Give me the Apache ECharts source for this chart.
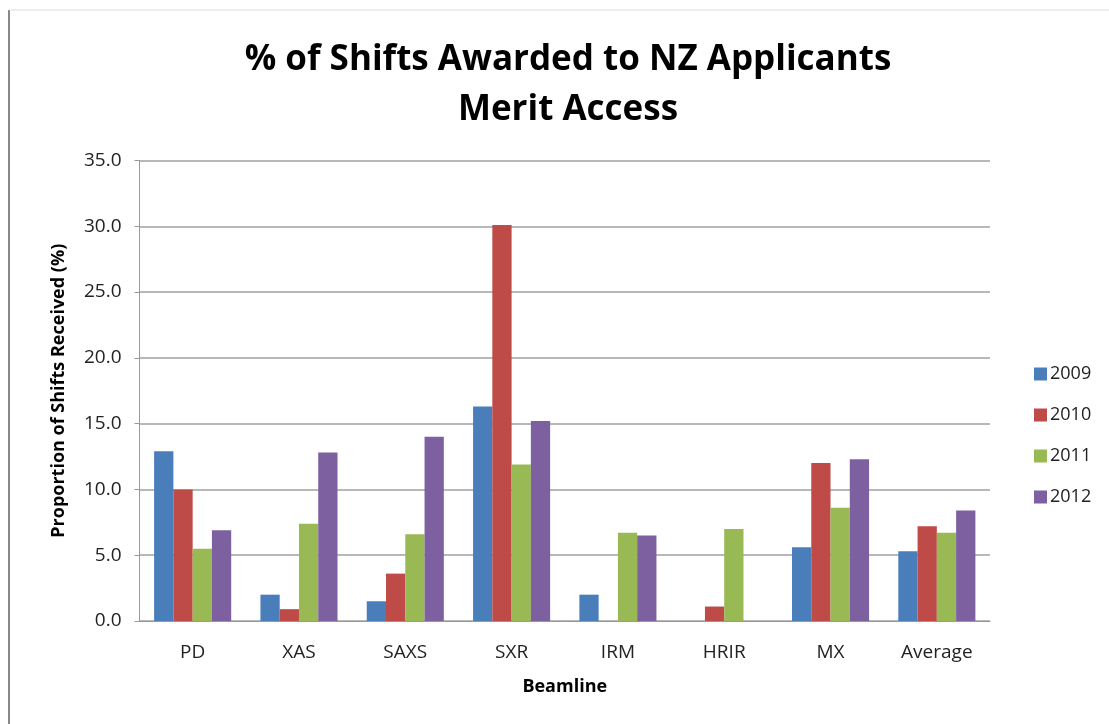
<!DOCTYPE html>
<html><head><meta charset="utf-8">
<script src="https://cdn.jsdelivr.net/npm/echarts@6/dist/echarts.min.js"></script>
<style>html,body{margin:0;padding:0;background:#fff}#c{width:1109px;height:724px}</style>
</head><body><div id="c"></div>
<script>
const categories = ['PD','XAS','SAXS','SXR','IRM','HRIR','MX','Average'];
const y2009 = [12.9, 2.0, 1.5, 16.3, 2.0, 0, 5.6, 5.3];
const y2010 = [10.0, 0.9, 3.6, 30.1, 0, 1.1, 12.0, 7.2];
const y2011 = [5.5, 7.4, 6.6, 11.9, 6.7, 7.0, 8.6, 6.7];
const y2012 = [6.9, 12.8, 14.0, 15.2, 6.5, 0, 12.3, 8.4];
const seriesNames = ['2009','2010','2011','2012'];
const colors = ['#4a7ebb','#be4b48','#98b954','#7d60a0'];
const font = "'Open Sans', 'Liberation Sans', sans-serif";
const chart = echarts.init(document.getElementById('c'));
const mk = (name, data) => ({name, type:'bar', data, barGap:'0%', barCategoryGap:'27.5%'});
chart.setOption({
  animation:false,
  color: colors,
  textStyle:{fontFamily:font},
  graphic:[
    {type:'line', shape:{x1:9,y1:10,x2:9,y2:724}, style:{stroke:'#888',lineWidth:2}},
    {type:'line', shape:{x1:9,y1:10,x2:1109,y2:10}, style:{stroke:'#ddd',lineWidth:1}}
  ],
  title:{
    text:'% of Shifts Awarded to NZ Applicants\nMerit Access',
    left:563, top:30, textAlign:'center',
    textStyle:{fontFamily:font, fontSize:35, fontWeight:'bold', color:'#000', lineHeight:50}
  },
  legend:{
    orient:'vertical', left:1029, top:360, itemGap:23, itemWidth:13, itemHeight:13,
    icon:'rect',
    textStyle:{fontFamily:font, fontSize:18, color:'#222', padding:[0,0,0,-2]},
    data: seriesNames
  },
  grid:{left:139.5, right:119, top:160.5, bottom:103, containLabel:false},
  xAxis:{
    type:'category', data:categories,
    name:'Beamline', nameLocation:'middle', nameGap:57,
    nameTextStyle:{fontFamily:font, fontSize:18, fontWeight:'bold', color:'#000'},
    axisLine:{lineStyle:{color:'#999'}},
    axisTick:{show:false},
    axisLabel:{fontFamily:font, fontSize:19, color:'#222', margin:22}
  },
  yAxis:{
    type:'value', min:0, max:35, interval:5,
    name:'Proportion of Shifts Received (%)', nameLocation:'middle', nameGap:72,
    nameTextStyle:{fontFamily:font, fontSize:18, fontWeight:'bold', color:'#000'},
    axisLine:{show:true, lineStyle:{color:'#999'}},
    axisTick:{show:true, length:5, lineStyle:{color:'#999'}},
    axisLabel:{fontFamily:font, fontSize:19, color:'#222', margin:18, formatter:v=>v.toFixed(1)},
    splitLine:{lineStyle:{color:'#a0a0a0', width:1.5}}
  },
  series:[mk('2009',y2009), mk('2010',y2010), mk('2011',y2011), mk('2012',y2012)]
});
</script></body></html>
